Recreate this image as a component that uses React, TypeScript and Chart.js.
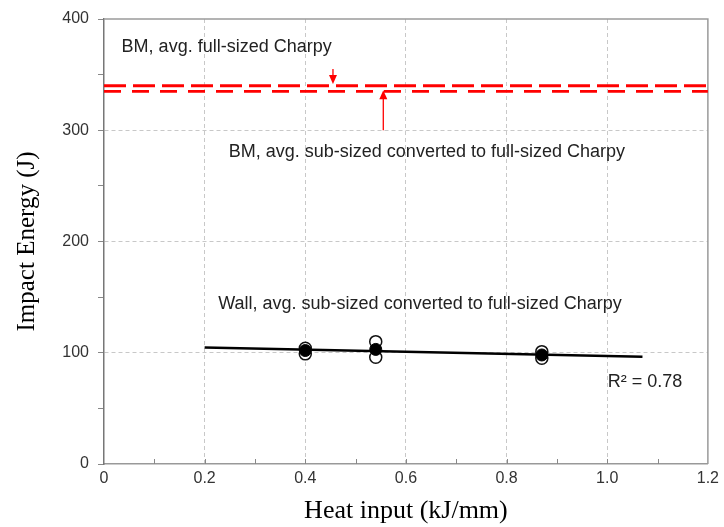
import React, { useEffect, useRef } from "react";
import { Chart, registerables } from "chart.js";

Chart.register(...registerables);

// ---- data ----
const openHeatInput = [0.4, 0.4, 0.54, 0.54, 0.87, 0.87];
const openEnergy = [104, 99, 110, 96, 101, 95];
const avgHeatInput = [0.4, 0.54, 0.87];
const avgEnergy = [102, 103, 98];
const trendHeatInput = [0.2, 1.07];
const trendEnergy = [104.8, 96.5];
const bmHeatInput = [0, 1.2];
const bmFullEnergy = [340, 340];
const bmSubEnergy = [335, 335];

// annotations (data coordinates)
const noteTexts = [
  "BM, avg. full-sized Charpy",
  "BM, avg. sub-sized converted to full-sized Charpy",
  "Wall, avg. sub-sized converted to full-sized Charpy",
  "R\u00B2 = 0.78",
];
const noteX = [0.035, 0.248, 0.227, 1.001];
const noteY = [375, 280, 144, 74];
const arrowX = [0.455, 0.555];
const arrowFromY = [355, 300];
const arrowToY = [341.5, 336];

const pts = (xs: number[], ys: number[]) => xs.map((x, i) => ({ x, y: ys[i] }));

const overlayPlugin = {
  id: "overlay",
  beforeDatasetsDraw(chart: any) {
    const { ctx, chartArea: a, scales } = chart;
    const xs = scales.x;
    ctx.save();
    // top & right frame
    ctx.strokeStyle = "#9a9a9a";
    ctx.lineWidth = 1.5;
    ctx.beginPath();
    ctx.moveTo(a.left, a.top);
    ctx.lineTo(a.right, a.top);
    ctx.lineTo(a.right, a.bottom);
    ctx.stroke();
    // inward minor ticks on x axis
    ctx.strokeStyle = "#888";
    ctx.lineWidth = 1;
    for (let i = 1; i < 12; i++) {
      const px = Math.round(xs.getPixelForValue(i / 10)) + 0.5;
      ctx.beginPath();
      ctx.moveTo(px, a.bottom);
      ctx.lineTo(px, a.bottom - 5);
      ctx.stroke();
    }
    ctx.restore();
  },
  afterDatasetsDraw(chart: any) {
    const { ctx, scales } = chart;
    const xs = scales.x;
    const ys = scales.y;
    ctx.save();
    // arrows
    ctx.strokeStyle = "#ff0000";
    ctx.fillStyle = "#ff0000";
    ctx.lineWidth = 1.3;
    for (let i = 0; i < arrowX.length; i++) {
      const px = xs.getPixelForValue(arrowX[i]);
      const y0 = ys.getPixelForValue(arrowFromY[i]);
      const y1 = ys.getPixelForValue(arrowToY[i]);
      const dir = y1 > y0 ? 1 : -1;
      ctx.beginPath();
      ctx.moveTo(px, y0);
      ctx.lineTo(px, y1 - dir * 8);
      ctx.stroke();
      ctx.beginPath();
      ctx.moveTo(px, y1);
      ctx.lineTo(px - 4, y1 - dir * 9);
      ctx.lineTo(px + 4, y1 - dir * 9);
      ctx.closePath();
      ctx.fill();
    }
    // texts
    ctx.fillStyle = "#222";
    ctx.font = "18px 'Liberation Sans', Arial, sans-serif";
    ctx.textBaseline = "middle";
    ctx.textAlign = "left";
    for (let i = 0; i < noteTexts.length; i++) {
      ctx.fillText(noteTexts[i], xs.getPixelForValue(noteX[i]), ys.getPixelForValue(noteY[i]));
    }
    ctx.restore();
  },
};

export default function App() {
  const ref = useRef<HTMLCanvasElement>(null);
  useEffect(() => {
    const chart = new Chart(ref.current!, {
      type: "scatter",
      data: {
        datasets: [
          {
            label: "avg",
            data: pts(avgHeatInput, avgEnergy),
            pointRadius: 6,
            pointBackgroundColor: "#000",
            pointBorderColor: "#000",
            pointBorderWidth: 1,
          },
          {
            label: "individual",
            data: pts(openHeatInput, openEnergy),
            pointRadius: 6,
            pointBackgroundColor: "#fff",
            pointBorderColor: "#111",
            pointBorderWidth: 1.5,
          },
          {
            label: "trend",
            data: pts(trendHeatInput, trendEnergy),
            showLine: true,
            pointRadius: 0,
            borderColor: "#000",
            borderWidth: 2.5,
          },
          {
            label: "BM full",
            data: pts(bmHeatInput, bmFullEnergy),
            showLine: true,
            pointRadius: 0,
            borderColor: "#ff0000",
            borderWidth: 2.8,
            borderDash: [22, 7],
          },
          {
            label: "BM sub",
            data: pts(bmHeatInput, bmSubEnergy),
            showLine: true,
            pointRadius: 0,
            borderColor: "#ff0000",
            borderWidth: 2.8,
            borderDash: [17, 11],
          },
        ],
      },
      options: {
        animation: false,
        responsive: false,
        devicePixelRatio: 1,
        layout: { padding: { top: 19, right: 13, left: 0, bottom: 0 } },
        plugins: { legend: { display: false }, tooltip: { enabled: false } },
        scales: {
          x: {
            type: "linear",
            min: 0,
            max: 1.2,
            afterFit: (s: any) => {
              s.height = 63;
            },
            ticks: {
              stepSize: 0.1,
              padding: 5,
              color: "#333",
              font: { size: 16, family: "'Liberation Sans', Arial, sans-serif" },
              maxRotation: 0,
              autoSkip: false,
              callback: (v: any) => {
                const t = Math.round(Number(v) * 10);
                if (t % 2 !== 0) return "";
                return t === 0 ? "0" : (t / 10).toFixed(1);
              },
            },
            grid: {
              drawTicks: false,
              color: (c: any) => {
                const t = Math.round((c.tick ? c.tick.value : 0) * 10);
                return t > 0 && t < 12 && t % 2 === 0 ? "#c8c8c8" : "rgba(0,0,0,0)";
              },
              lineWidth: 1,
            },
            border: { color: "#999", width: 1.5, dash: [4, 3] },
            title: {
              display: true,
              text: "Heat input (kJ/mm)",
              color: "#000",
              font: { size: 26, family: "'Liberation Serif', 'Times New Roman', serif", weight: "normal" },
              padding: { top: 0, bottom: 0 },
            },
          },
          y: {
            type: "linear",
            min: 0,
            max: 400,
            afterFit: (s: any) => {
              s.width = 104;
            },
            ticks: {
              stepSize: 50,
              padding: 9,
              color: "#333",
              font: { size: 16, family: "'Liberation Sans', Arial, sans-serif" },
              autoSkip: false,
              callback: (v: any) => (Number(v) % 100 === 0 ? String(v) : ""),
            },
            grid: {
              drawTicks: true,
              tickLength: 6,
              tickColor: "#888",
              tickBorderDash: [],
              color: (c: any) => {
                const v = c.tick ? c.tick.value : 0;
                return v > 0 && v < 400 && v % 100 === 0 ? "#c8c8c8" : "rgba(0,0,0,0)";
              },
              lineWidth: 1,
            },
            border: { color: "#777", width: 1.5, dash: [4, 3] },
            title: {
              display: true,
              text: "Impact Energy (J)",
              color: "#000",
              font: { size: 25, family: "'Liberation Serif', 'Times New Roman', serif", weight: "normal" },
              padding: { top: 12, bottom: 0 },
            },
          },
        },
      },
      plugins: [overlayPlugin],
    } as any);
    return () => chart.destroy();
  }, []);
  return (
    <div style={{ position: "fixed", left: 0, top: 0, width: 724, height: 527, background: "#fff" }}>
      <canvas ref={ref} width={724} height={527} style={{ display: "block", width: 724, height: 527 }} />
    </div>
  );
}
